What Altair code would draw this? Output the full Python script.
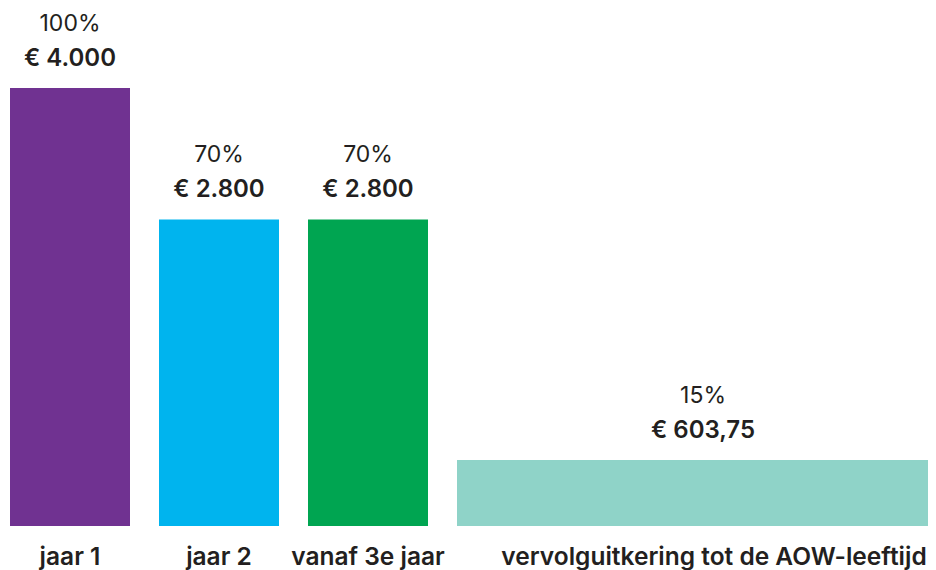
import altair as alt
import pandas as pd

categories = ["jaar 1", "jaar 2", "vanaf 3e jaar", "vervolguitkering tot de AOW-leeftijd"]
percent_labels = ["100%", "70%", "70%", "15%"]
amounts = [4000, 2800, 2800, 603.75]
amount_labels = ["€ 4.000", "€ 2.800", "€ 2.800", "€ 603,75"]
colors = ["#703291", "#00B4EE", "#00A551", "#8FD3C8"]

# layout: relative bar widths and gap (in bar-width units)
spans = [1, 1, 1, 4.1]
gap = 29 / 120

starts, ends = [], []
pos = 0.0
for s in spans:
    starts.append(pos)
    ends.append(pos + s)
    pos += s + gap

df = pd.DataFrame({
    "cat": categories,
    "pct": percent_labels,
    "amount": amounts,
    "amount_label": amount_labels,
    "x0": starts,
    "x1": ends,
})
df["xc"] = (df["x0"] + df["x1"]) / 2

W, H = 920, 562
xscale = alt.Scale(domain=[-2 / 120, (W - 2) / 120], range=[0, W], zero=False, nice=False)
yscale = alt.Scale(domain=[0, 4000], range=[518, 80], nice=False, zero=True)

base = alt.Chart(df)

bars = base.mark_bar(clip=True).encode(
    x=alt.X("x0:Q", scale=xscale, axis=None),
    x2=alt.X2("x1:Q"),
    y=alt.Y("amount:Q", scale=yscale, axis=None),
    y2=alt.Y2(datum=0),
    color=alt.Color("cat:N", scale=alt.Scale(domain=categories, range=colors), legend=None),
)

text_color = "#231F20"
font = "Inter"

pct_text = base.mark_text(font=font, fontSize=23, fontWeight=400, color=text_color,
                          baseline="alphabetic", dy=-57).encode(
    x=alt.X("xc:Q", scale=xscale),
    y=alt.Y("amount:Q", scale=yscale),
    text="pct:N",
)

amt_text = base.mark_text(font=font, fontSize=24, fontWeight=600, color=text_color,
                          baseline="alphabetic", dy=-22).encode(
    x=alt.X("xc:Q", scale=xscale),
    y=alt.Y("amount:Q", scale=yscale),
    text="amount_label:N",
)

cat_text_a = base.transform_filter(alt.datum.cat != categories[-1]).mark_text(
    font=font, fontSize=24.5, fontWeight=600, color=text_color, baseline="alphabetic", dy=39
).encode(
    x=alt.X("xc:Q", scale=xscale),
    y=alt.Y(datum=0, scale=yscale),
    text="cat:N",
)
cat_text_b = base.transform_filter(alt.datum.cat == categories[-1]).mark_text(
    font=font, fontSize=24.5, fontWeight=600, color=text_color, baseline="alphabetic", dy=39, dx=11
).encode(
    x=alt.X("xc:Q", scale=xscale),
    y=alt.Y(datum=0, scale=yscale),
    text="cat:N",
)

chart = alt.layer(bars, pct_text, amt_text, cat_text_a, cat_text_b).properties(
    width=W, height=H, autosize=alt.AutoSizeParams(type="none"), padding=0
).configure_view(stroke=None)

chart.save("out.html", embed_options={"renderer": "svg", "actions": False})
